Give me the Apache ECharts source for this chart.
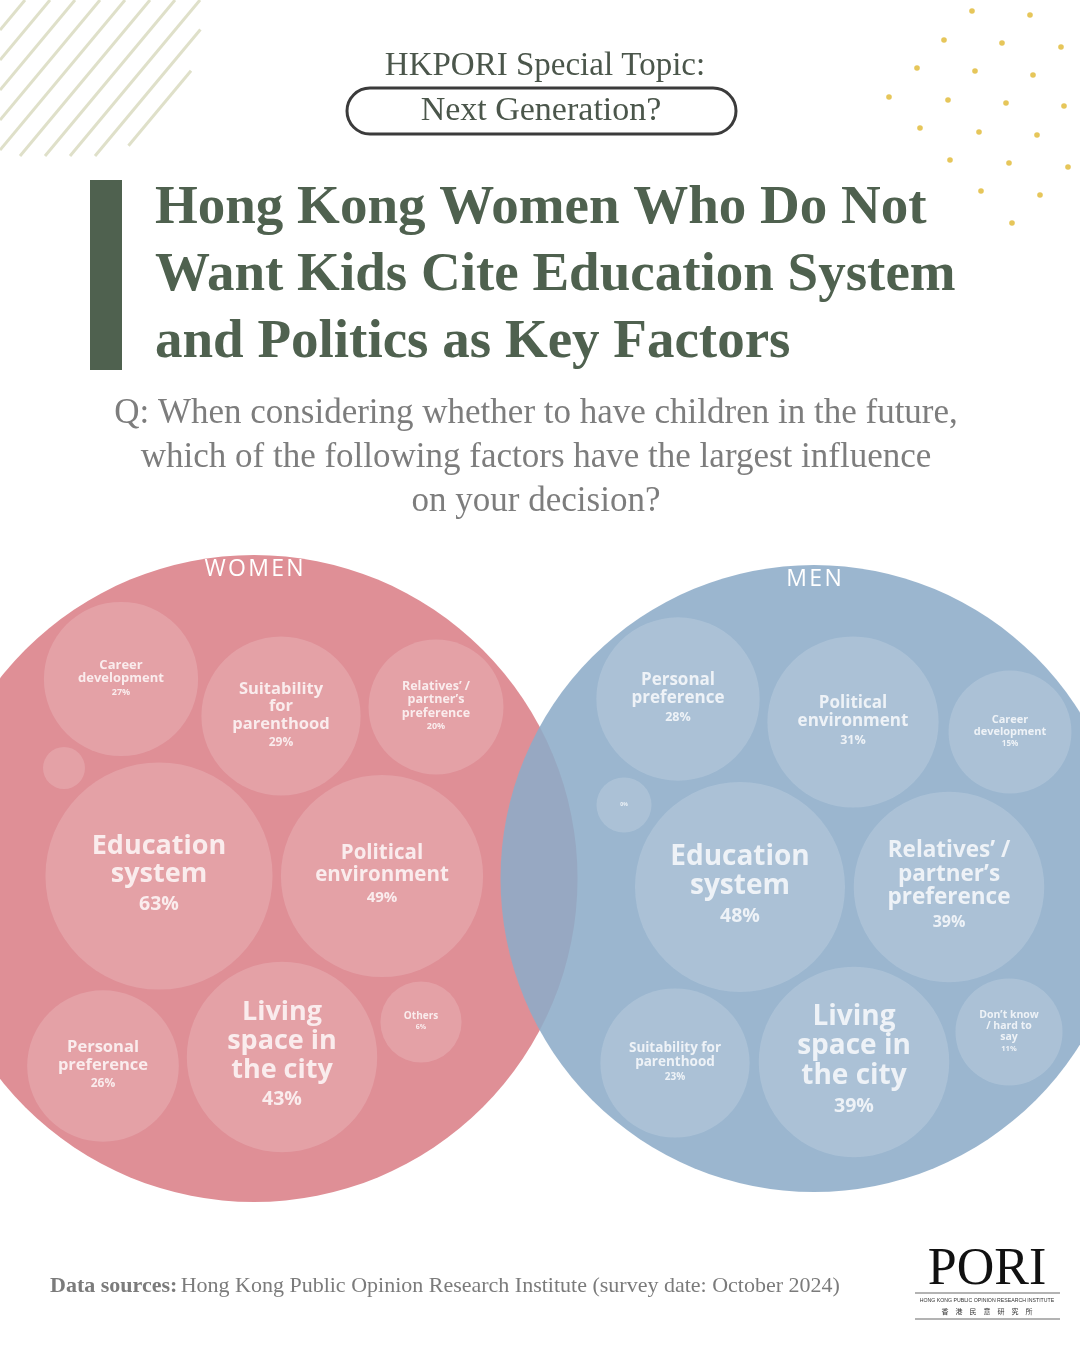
<!DOCTYPE html>
<html>
<head>
<meta charset="utf-8">
<script src="https://cdn.jsdelivr.net/npm/echarts@6/dist/echarts.min.js"></script>
<style>
html, body { margin: 0; padding: 0; background: #ffffff; }
#main { width: 1080px; height: 1350px; }
</style>
</head>
<body>
<div id="main"></div>
<script>
// factors and shares (%)
var womenFactors = ['Career\ndevelopment', 'Suitability\nfor\nparenthood', 'Relatives’ /\npartner’s\npreference', '',
    'Education\nsystem', 'Political\nenvironment', 'Personal\npreference', 'Living\nspace in\nthe city', 'Others'];
var womenValues = [27, 29, 20, null, 63, 49, 26, 43, 6];

var menFactors = ['Personal\npreference', 'Political\nenvironment', 'Career\ndevelopment', '',
    'Education\nsystem', 'Relatives’ /\npartner’s\npreference', 'Suitability for\nparenthood', 'Living\nspace in\nthe city', 'Don’t know\n/ hard to\nsay'];
var menValues = [28, 31, 15, 0, 48, 39, 23, 39, 11];

// bubble layout: [x, y, name font, percent font, min size]
var womenLayout = [[121, 679, 13, 9], [281, 716, 16.5, 12], [436, 707, 12.5, 9], [64, 768, 0, 0, 42],
    [159, 876, 27, 19.5], [382, 876, 20.5, 15], [103, 1066, 16.5, 12], [282, 1057, 27, 19.5], [421, 1022, 10, 7]];
var menLayout = [[678, 699, 17, 12.5], [853, 722, 17, 12.5], [1010, 732, 11, 8], [624, 805, 0, 5, 55],
    [740, 887, 28, 19.5], [949, 887, 22.5, 16], [675, 1063, 13.5, 10], [854, 1062, 28, 19.5], [1009, 1032, 10.5, 7.5]];

var womenScale = { a: 16, b: 26.6 };
var menScale = { a: 12.5, b: 28.5 };

var myChart = echarts.init(document.getElementById('main'));

function bubbles(names, values, layout, scale) {
    return names.map(function (n, i) {
        var L = layout[i], v = values[i];
        var size = (v == null || v === 0) ? L[4] : scale.a + scale.b * Math.sqrt(v);
        var txt = '';
        if (v != null) {
            txt = (n ? n.split('\n').map(function (s) { return '{n|' + s + '}'; }).join('\n') + '\n' : '') + '{p|' + v + '%}';
        }
        return {
            name: n.replace(/\n/g, ' '),
            value: [L[0], L[1], v],
            symbolSize: size,
            label: {
                formatter: txt,
                rich: {
                    n: { fontSize: L[2], lineHeight: L[2] * 1.06, fontWeight: 'bold', color: '#ffffff', fontFamily: 'Open Sans' },
                    p: { fontSize: L[3], lineHeight: L[3] * 1.6, fontWeight: 'bold', color: '#ffffff', fontFamily: 'Open Sans' }
                }
            }
        };
    });
}

// decoration: stripes in the top-left corner
var stripeArea = [[0, 0], [202, 0], [202, 20], [195, 62], [180, 95], [160, 122], [135, 143], [105, 156], [0, 156]];
function clipLine(p, d) {
    var ts = [];
    for (var i = 0; i < stripeArea.length; i++) {
        var a = stripeArea[i], b = stripeArea[(i + 1) % stripeArea.length];
        var ex = b[0] - a[0], ey = b[1] - a[1];
        var den = d[0] * ey - d[1] * ex;
        if (Math.abs(den) < 1e-9) continue;
        var t = ((a[0] - p[0]) * ey - (a[1] - p[1]) * ex) / den;
        var s = ((a[0] - p[0]) * d[1] - (a[1] - p[1]) * d[0]) / den;
        if (s >= 0 && s <= 1) ts.push(t);
    }
    if (ts.length < 2) return null;
    var t0 = Math.min.apply(null, ts), t1 = Math.max.apply(null, ts);
    return [[p[0] + d[0] * t0, p[1] + d[1] * t0], [p[0] + d[0] * t1, p[1] + d[1] * t1]];
}
var graphics = [];
for (var k = -10; k < 24; k++) {
    var seg = clipLine([k * 25, 0], [1, -1.2]);
    if (seg) {
        graphics.push({
            type: 'line', silent: true,
            shape: { x1: seg[0][0], y1: seg[0][1], x2: seg[1][0], y2: seg[1][1] },
            style: { stroke: '#dfe0c9', lineWidth: 3 }
        });
    }
}

// decoration: dots in the top-right corner
var dots = [[972, 11], [1030, 15], [944, 40], [1002, 43], [1061, 47], [917, 68], [975, 71], [1033, 75],
    [889, 97], [948, 100], [1006, 103], [1064, 106], [920, 128], [979, 132], [1037, 135], [950, 160],
    [1009, 163], [1068, 167], [981, 191], [1040, 195], [1012, 223]];
dots.forEach(function (p) {
    graphics.push({ type: 'circle', silent: true, shape: { cx: p[0], cy: p[1], r: 2.8 }, style: { fill: '#e6c65a' } });
});

var serif = '"Liberation Serif"';
graphics.push(
    { type: 'text', style: { text: 'HKPORI Special Topic:', x: 545, y: 66, textAlign: 'center', textVerticalAlign: 'middle',
        font: '33px ' + serif, fill: '#4b564b' } },
    { type: 'rect', shape: { x: 347, y: 88, width: 389, height: 46, r: 23 },
        style: { fill: 'none', stroke: '#3b3b3b', lineWidth: 3 } },
    { type: 'text', style: { text: 'Next Generation?', x: 541, y: 111, textAlign: 'center', textVerticalAlign: 'middle',
        font: '34px ' + serif, fill: '#4b564b' } },
    { type: 'rect', shape: { x: 90, y: 180, width: 32, height: 190 }, style: { fill: '#4f614f' } },
    { type: 'text', style: { text: 'Hong Kong Women Who Do Not', x: 155, y: 209, textVerticalAlign: 'middle',
        font: 'bold 55px ' + serif, fill: '#4f614f' } },
    { type: 'text', style: { text: 'Want Kids Cite Education System', x: 155, y: 276, textVerticalAlign: 'middle',
        font: 'bold 55px ' + serif, fill: '#4f614f' } },
    { type: 'text', style: { text: 'and Politics as Key Factors', x: 155, y: 343, textVerticalAlign: 'middle',
        font: 'bold 55px ' + serif, fill: '#4f614f' } },
    { type: 'text', style: { text: 'Q: When considering whether to have children in the future,', x: 536, y: 414,
        textAlign: 'center', textVerticalAlign: 'middle', font: '35px ' + serif, fill: '#7d7d7d' } },
    { type: 'text', style: { text: 'which of the following factors have the largest influence', x: 536, y: 458,
        textAlign: 'center', textVerticalAlign: 'middle', font: '35px ' + serif, fill: '#7d7d7d' } },
    { type: 'text', style: { text: 'on your decision?', x: 536, y: 502,
        textAlign: 'center', textVerticalAlign: 'middle', font: '35px ' + serif, fill: '#7d7d7d' } },
    { type: 'text', style: {
        text: '{b|Data sources:} {r|Hong Kong Public Opinion Research Institute (survey date: October 2024)}',
        x: 50, y: 1286, textVerticalAlign: 'middle',
        rich: {
            b: { fontFamily: 'Liberation Serif', fontWeight: 'bold', fontSize: 22, fill: '#7b7b7b' },
            r: { fontFamily: 'Liberation Serif', fontSize: 22, fill: '#7b7b7b' }
        } } },
    { type: 'text', style: { text: 'PORI', x: 987, y: 1270, textAlign: 'center', textVerticalAlign: 'middle',
        font: '52px ' + serif, fill: '#111111' } },
    { type: 'line', shape: { x1: 915, y1: 1293, x2: 1060, y2: 1293 }, style: { stroke: '#9a9a9a', lineWidth: 1.5 } },
    { type: 'text', style: { text: 'HONG KONG PUBLIC OPINION RESEARCH INSTITUTE', x: 987, y: 1301, textAlign: 'center',
        textVerticalAlign: 'middle', font: '5.2px "Liberation Sans"', fill: '#333333' } },
    { type: 'text', style: { text: '香　港　民　意　研　究　所', x: 987, y: 1311, textAlign: 'center',
        textVerticalAlign: 'middle', font: '7px "Noto Sans CJK TC"', fill: '#333333' } },
    { type: 'line', shape: { x1: 915, y1: 1319, x2: 1060, y2: 1319 }, style: { stroke: '#9a9a9a', lineWidth: 1.5 } }
);

var groupLabel = {
    show: true, position: 'insideTop', distance: 3,
    color: '#ffffff', fontFamily: 'Open Sans', fontSize: 23, fontWeight: 'normal'
};
var bubbleStyle = { color: 'rgba(255,255,255,0.2)' };

var option = {
    animation: false,
    grid: { left: 0, right: 0, top: 0, bottom: 0 },
    xAxis: { type: 'value', min: 0, max: 1080, show: false },
    yAxis: { type: 'value', min: 0, max: 1350, inverse: true, show: false },
    graphic: { elements: graphics },
    series: [
        {
            name: 'WOMEN', type: 'scatter', z: 1, silent: true,
            itemStyle: { color: '#df8f96', opacity: 1 },
            label: Object.assign({ formatter: 'W\u200aO\u200aM\u200aE\u200aN' }, groupLabel),
            data: [{ value: [254, 878.5], symbolSize: 647 }]
        },
        {
            name: 'Women factors', type: 'scatter', z: 2,
            itemStyle: bubbleStyle,
            label: { show: true, position: 'inside' },
            data: bubbles(womenFactors, womenValues, womenLayout, womenScale)
        },
        {
            name: 'MEN', type: 'scatter', z: 3, silent: true,
            itemStyle: { color: 'rgba(141,172,200,0.88)', opacity: 1 },
            label: Object.assign({ formatter: 'M\u200aE\u200aN' }, groupLabel),
            data: [{ value: [814, 878.5], symbolSize: 627 }]
        },
        {
            name: 'Men factors', type: 'scatter', z: 4,
            itemStyle: bubbleStyle,
            label: { show: true, position: 'inside' },
            data: bubbles(menFactors, menValues, menLayout, menScale)
        }
    ]
};

myChart.setOption(option);
</script>
</body>
</html>
